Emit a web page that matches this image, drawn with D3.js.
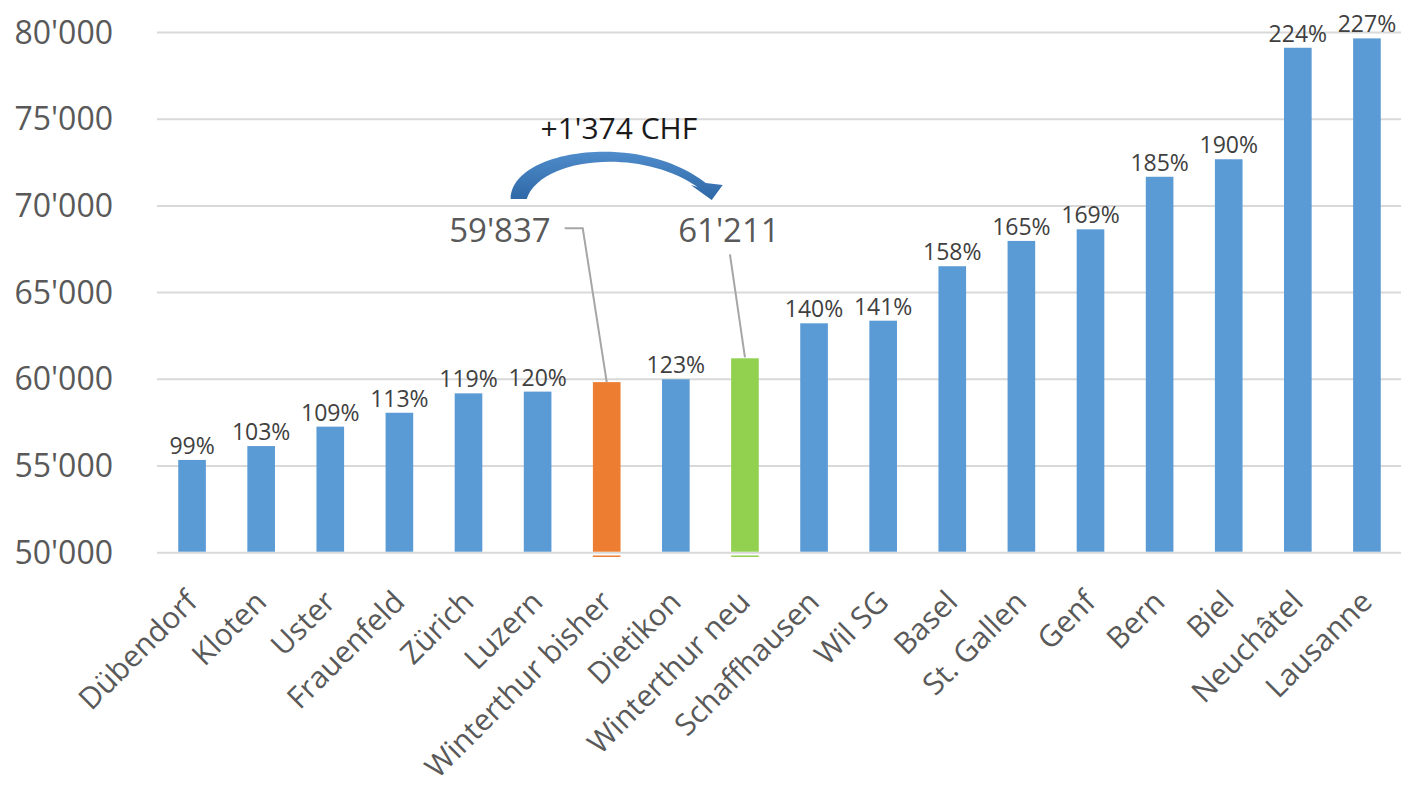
<!DOCTYPE html>
<html>
<head>
<meta charset="utf-8">
<script src="https://cdn.jsdelivr.net/npm/d3@7"></script>
<style>
  body { margin: 0; background: #fff; }
  text { font-family: "Open Sans", "Noto Sans", sans-serif; }
</style>
</head>
<body>
<div class="chart"></div>
<script>
var svgWidth = 1408;
var svgHeight = 788;

// chart data
var cities = ["Dübendorf", "Kloten", "Uster", "Frauenfeld", "Zürich", "Luzern",
  "Winterthur bisher", "Dietikon", "Winterthur neu", "Schaffhausen", "Wil SG",
  "Basel", "St. Gallen", "Genf", "Bern", "Biel", "Neuchâtel", "Lausanne"];
var values = [55350, 56150, 57270, 58070, 59190, 59290, 59837, 60000, 61211,
  63230, 63380, 66520, 67980, 68650, 71680, 72690, 79120, 79660];
var percents = ["99%", "103%", "109%", "113%", "119%", "120%", null, "123%", null,
  "140%", "141%", "158%", "165%", "169%", "185%", "190%", "224%", "227%"];
var barColors = ["#5b9bd5", "#5b9bd5", "#5b9bd5", "#5b9bd5", "#5b9bd5", "#5b9bd5",
  "#ed7d31", "#5b9bd5", "#92d050", "#5b9bd5", "#5b9bd5", "#5b9bd5", "#5b9bd5",
  "#5b9bd5", "#5b9bd5", "#5b9bd5", "#5b9bd5", "#5b9bd5"];
var yTicks = [50000, 55000, 60000, 65000, 70000, 75000, 80000];
var oldLabel = "59'837";
var newLabel = "61'211";
var diffLabel = "+1'374 CHF";

var data = cities.map(function(c, i) {
  return { city: c, value: values[i], pct: percents[i], color: barColors[i] };
});

var svg = d3.select(".chart")
  .append("svg")
  .attr("width", svgWidth)
  .attr("height", svgHeight);

var x = d3.scaleBand()
  .domain(cities)
  .range([157.5, 1401.5])
  .paddingInner(0.6)
  .paddingOuter(0.3);

var y = d3.scaleLinear()
  .domain([50000, 80000])
  .range([552.7, 32.5]);

var fmt = function(d) { return d3.format(",")(d).replace(/,/g, "'"); };

// gridlines
svg.append("g")
  .selectAll("line")
  .data(yTicks)
  .enter()
  .append("line")
  .attr("x1", 157)
  .attr("x2", 1401)
  .attr("y1", d => y(d))
  .attr("y2", d => y(d))
  .attr("stroke", "#d9d9d9")
  .attr("stroke-width", 2);

// y tick labels
svg.append("g")
  .selectAll("text")
  .data(yTicks)
  .enter()
  .append("text")
  .attr("x", 113)
  .attr("y", d => y(d) + 11)
  .attr("text-anchor", "end")
  .attr("fill", "#595959")
  .style("font-size", "32px")
  .text(d => fmt(d));

// bars
svg.append("g")
  .selectAll("rect")
  .data(data)
  .enter()
  .append("rect")
  .attr("x", d => x(d.city))
  .attr("width", x.bandwidth())
  .attr("y", d => y(d.value))
  .attr("height", d => y(50000) - y(d.value) - 1)
  .attr("fill", d => d.color);

// little outline stubs below the axis for the highlighted bars
svg.append("g")
  .selectAll("line")
  .data(data.filter(d => d.color !== "#5b9bd5"))
  .enter()
  .append("line")
  .attr("x1", d => x(d.city))
  .attr("x2", d => x(d.city) + x.bandwidth())
  .attr("y1", y(50000) + 3.5)
  .attr("y2", y(50000) + 3.5)
  .attr("stroke", d => d.color)
  .attr("stroke-width", 1.5);

// percent labels
svg.append("g")
  .selectAll("text")
  .data(data.filter(d => d.pct))
  .enter()
  .append("text")
  .attr("x", d => x(d.city) + x.bandwidth() / 2)
  .attr("y", d => y(d.value) - 6)
  .attr("text-anchor", "middle")
  .attr("fill", "#404040")
  .style("font-size", "23px")
  .text(d => d.pct);

// category labels
svg.append("g")
  .selectAll("text")
  .data(cities)
  .enter()
  .append("text")
  .attr("transform", d => `translate(${x(d) + x.bandwidth() / 2 + 7}, ${y(50000) + 51}) rotate(-45)`)
  .attr("text-anchor", "end")
  .attr("fill", "#595959")
  .style("font-size", "30px")
  .text(d => d);

// annotations for Winterthur
var cOld = x("Winterthur bisher") + x.bandwidth() / 2;
var cNew = x("Winterthur neu") + x.bandwidth() / 2;

svg.append("path")
  .attr("d", `M${cOld - 42},${y(59837) - 154} L${cOld - 24},${y(59837) - 154} L${cOld},${y(59837)}`)
  .attr("fill", "none")
  .attr("stroke", "#a6a6a6")
  .attr("stroke-width", 2);

svg.append("line")
  .attr("x1", cNew - 15)
  .attr("y1", y(61211) - 104)
  .attr("x2", cNew)
  .attr("y2", y(61211) - 1)
  .attr("stroke", "#a6a6a6")
  .attr("stroke-width", 2);

svg.append("text")
  .attr("x", cOld - 56)
  .attr("y", 242)
  .attr("text-anchor", "end")
  .attr("fill", "#595959")
  .style("font-size", "33px")
  .text(oldLabel);

svg.append("text")
  .attr("x", cNew - 16)
  .attr("y", 242)
  .attr("text-anchor", "middle")
  .attr("fill", "#595959")
  .style("font-size", "33px")
  .text(newLabel);

svg.append("text")
  .attr("x", (cOld + cNew) / 2 - 57)
  .attr("y", 139)
  .attr("text-anchor", "middle")
  .attr("fill", "#1a1a1a")
  .style("font-size", "30px")
  .text(diffLabel);

// curved arrow
var grad = svg.append("defs").append("linearGradient")
  .attr("id", "arrowGrad")
  .attr("x1", 0).attr("y1", 0).attr("x2", 0).attr("y2", 1);
grad.append("stop").attr("offset", "0%").attr("stop-color", "#4f8ccb");
grad.append("stop").attr("offset", "100%").attr("stop-color", "#2f68a6");

var ax = cOld - 96;
var ay = 199;
svg.append("path")
  .attr("d", `M${ax},${ay} C${ax},${ay - 50} ${ax + 130},${ay - 68} ${ax + 195},${ay - 16}
     L${ax + 212},${ay - 14} L${ax + 201},${ay + 1} L${ax + 180},${ay - 14} L${ax + 187},${ay - 12}
     C${ax + 130},${ay - 52} ${ax + 30},${ay - 42} ${ax + 16},${ay} Z`)
  .attr("fill", "url(#arrowGrad)");
</script>
</body>
</html>
